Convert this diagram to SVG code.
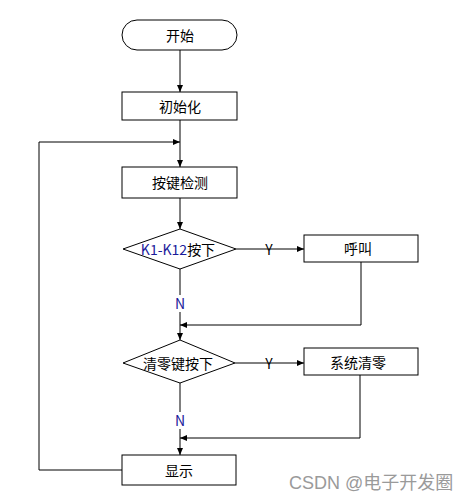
<svg xmlns="http://www.w3.org/2000/svg" width="474" height="501" viewBox="0 0 474 501">
<style>
.s{fill:#fff;stroke:#000;stroke-width:1}
.l{fill:none;stroke:#000;stroke-width:1}
.t{font-family:"Noto Sans CJK SC","Liberation Sans",sans-serif;font-size:14px;fill:#000;text-anchor:middle;dominant-baseline:central}
.b{fill:#1a1a9a}
.w{font-family:"Liberation Sans","Noto Sans CJK SC",sans-serif;font-size:18px;fill:#9a9a9a}
</style>
<defs>
<marker id="a" markerWidth="8" markerHeight="8" refX="7" refY="4" orient="auto" markerUnits="userSpaceOnUse">
<path d="M0,1 L7,4 L0,7 Z" fill="#000"/>
</marker>
</defs>
<rect width="474" height="501" fill="#fff"/>
<g id="connectors">
<line class="l" x1="180" y1="50" x2="180" y2="92" marker-end="url(#a)"/>
<line class="l" x1="180" y1="120" x2="180" y2="167" marker-end="url(#a)"/>
<line class="l" x1="180" y1="198" x2="180" y2="229" marker-end="url(#a)"/>
<line class="l" x1="236" y1="249" x2="304" y2="249" marker-end="url(#a)"/>
<line class="l" x1="180" y1="269" x2="180" y2="295"/>
<line class="l" x1="180" y1="312" x2="180" y2="340" marker-end="url(#a)"/>
<polyline class="l" points="361,262 361,325 180,325" marker-end="url(#a)"/>
<line class="l" x1="235" y1="363" x2="304" y2="363" marker-end="url(#a)"/>
<line class="l" x1="180" y1="383" x2="180" y2="412"/>
<line class="l" x1="180" y1="429" x2="180" y2="455" marker-end="url(#a)"/>
<polyline class="l" points="360,375 360,438 180,438" marker-end="url(#a)"/>
<polyline class="l" points="122,470 39,470 39,142 180,142" marker-end="url(#a)"/>
<text class="t" x="269" y="249">Y</text>
<text class="t b" x="180" y="303">N</text>
<text class="t" x="269" y="363">Y</text>
<text class="t b" x="180" y="420">N</text>
</g>
<g id="start">
<rect class="s" x="122" y="20" width="115" height="30" rx="15" ry="15"/>
<text class="t" x="180" y="35">开始</text>
</g>
<g id="init">
<rect class="s" x="122" y="92" width="115" height="28"/>
<text class="t" x="180" y="106">初始化</text>
</g>
<g id="detect">
<rect class="s" x="122" y="167" width="115" height="31"/>
<text class="t" x="180" y="182">按键检测</text>
</g>
<g id="d1">
<polygon class="s" points="180,229 236,249 180,269 123,249"/>
<text class="t" x="178" y="249"><tspan class="b">K1-K12</tspan>按下</text>
</g>
<g id="call">
<rect class="s" x="304" y="235" width="114" height="27"/>
<text class="t" x="358" y="248">呼叫</text>
</g>
<g id="d2">
<polygon class="s" points="180,340 235,363 180,383 123,363"/>
<text class="t" x="178" y="363">清零键按下</text>
</g>
<g id="clear">
<rect class="s" x="304" y="348" width="114" height="27"/>
<text class="t" x="358" y="362">系统清零</text>
</g>
<g id="display">
<rect class="s" x="122" y="455" width="114" height="30"/>
<text class="t" x="179" y="470">显示</text>
</g>
<text class="w" x="289" y="489">CSDN @电子开发圈</text>
</svg>
